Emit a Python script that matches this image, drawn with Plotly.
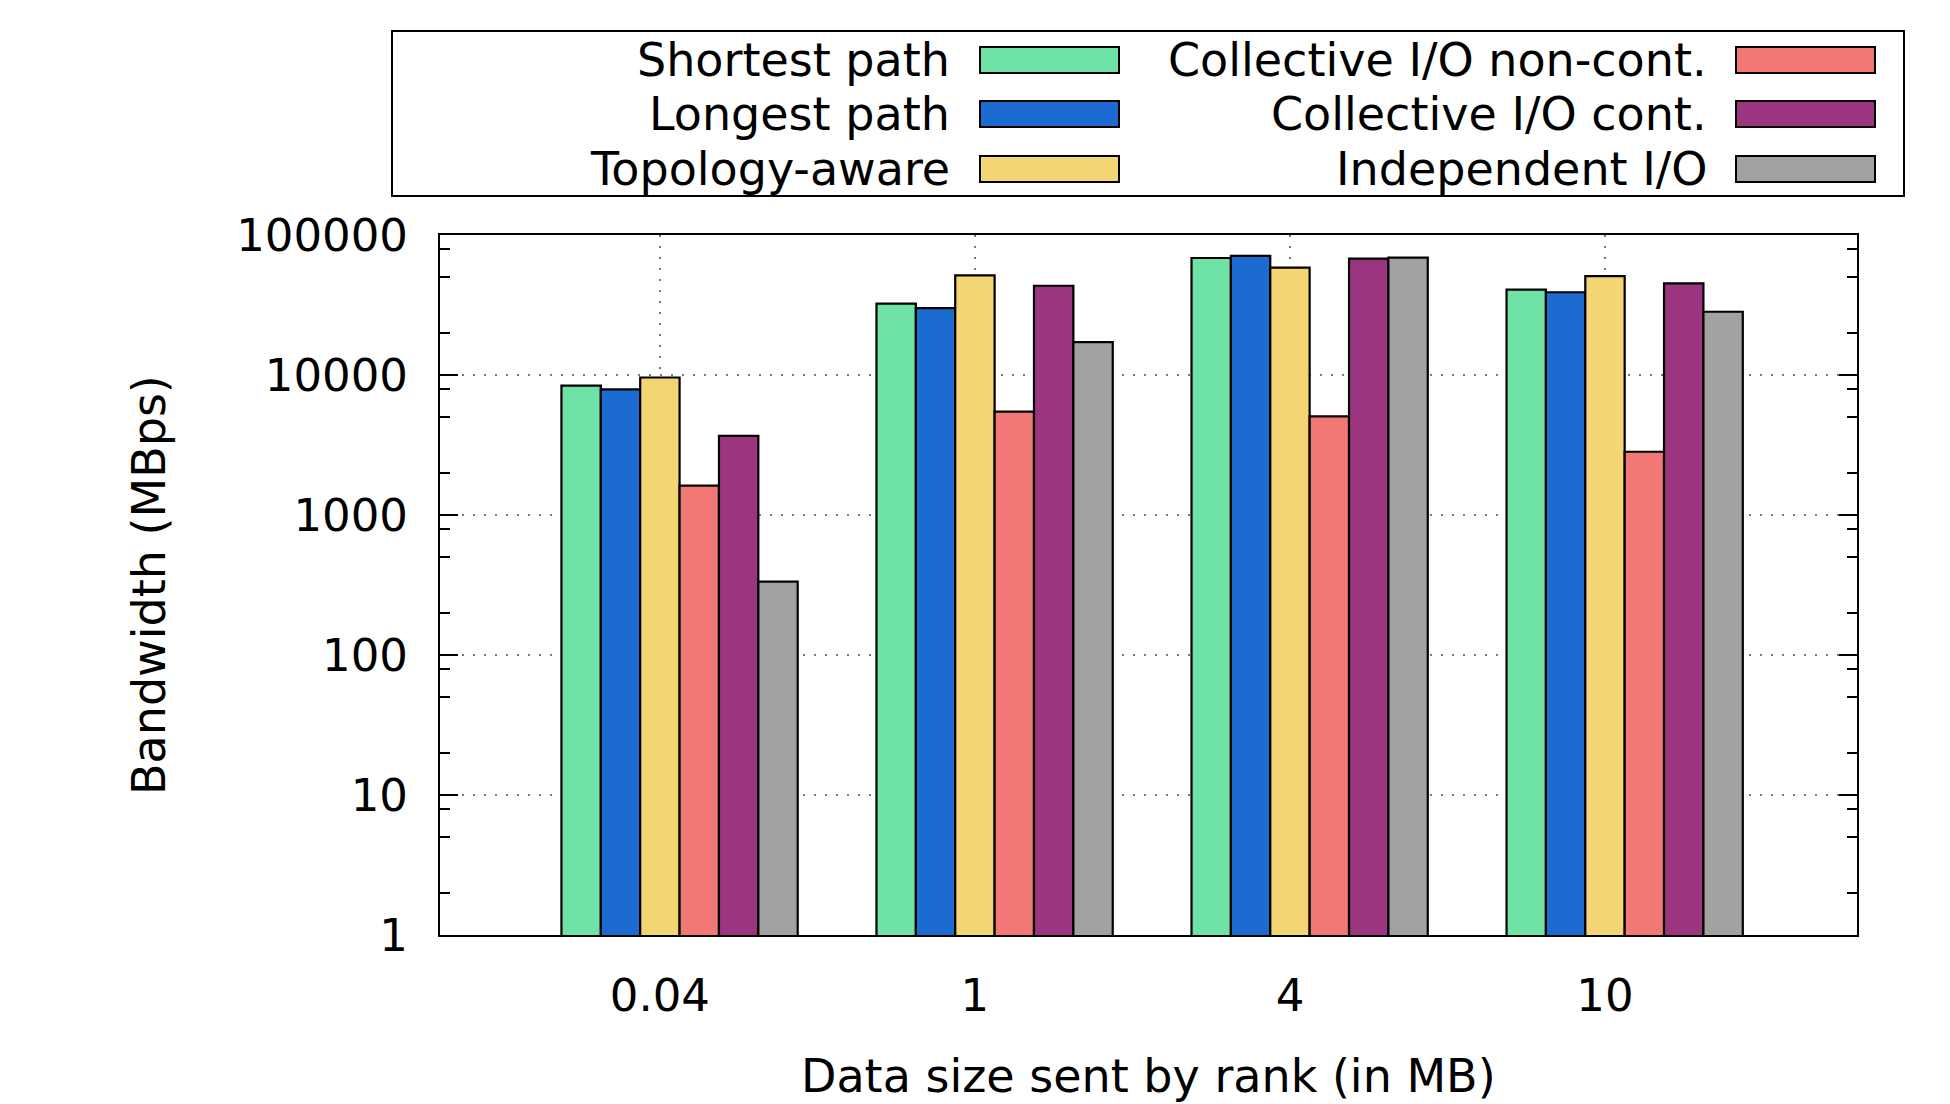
import plotly.graph_objects as go

# ---------------- data ----------------
categories = ["0.04", "1", "4", "10"]
series_names = ["Shortest path", "Longest path", "Topology-aware",
                "Collective I/O non-cont.", "Collective I/O cont.", "Independent I/O"]
shortest_path = [8400, 32300, 68500, 40700]
longest_path = [7900, 30000, 71000, 39000]
topology_aware = [9600, 51500, 58400, 50900]
collective_noncont = [1620, 5470, 5070, 2830]
collective_cont = [3680, 43400, 67800, 45200]
independent_io = [334, 17200, 69000, 28300]
y_tick_values = [1, 10, 100, 1000, 10000, 100000]
y_tick_labels = ["1", "10", "100", "1000", "10000", "100000"]
minor_tick_values = [m * 10 ** d for d in range(5) for m in (2, 5, 8)]

series_values = [shortest_path, longest_path, topology_aware,
                 collective_noncont, collective_cont, independent_io]
colors = ["#6ee3a5", "#1b6bd1", "#f3d573", "#f27876", "#9c3580", "#a2a2a2"]

# ---------------- layout constants (page pixels) ----------------
PAGE_W, PAGE_H = 1950, 1104
OFF = 8  # default body margin of the html page
W, H = PAGE_W - OFF, PAGE_H - OFF
L, R, T, B = 440, 1857, 235, 935
FONT = "DejaVu Sans"
FS = 46
FS_TICK = 45
BAR_W = 0.125


def px(x):
    return (x - L) / (R - L)


def py(y):
    return (B - y) / (B - T)


fig = go.Figure()
for k, (name, vals, col) in enumerate(zip(series_names, series_values, colors)):
    fig.add_trace(go.Bar(
        x=categories, y=vals, name=name,
        width=BAR_W, offset=(k - 2) * BAR_W - BAR_W / 2,
        marker=dict(color=col, line=dict(color="black", width=2.2)),
        showlegend=False,
    ))

# ---------------- custom legend (text left of swatch) ----------------
shapes = []
annotations = []
shapes.append(dict(type="rect", xref="paper", yref="paper",
                   x0=px(392), x1=px(1904), y0=py(196), y1=py(31),
                   line=dict(color="black", width=2), fillcolor="white", layer="above"))
rows_y = [60, 114, 169]
col_text_right = [952, 1709]
col_swatch = [(980, 1119), (1736, 1875)]
for k, (name, col) in enumerate(zip(series_names, colors)):
    c, r = divmod(k, 3)
    yc = rows_y[r]
    annotations.append(dict(xref="paper", yref="paper", x=px(col_text_right[c]), y=py(yc),
                            xanchor="right", yanchor="middle", text=name, showarrow=False,
                            font=dict(family=FONT, size=FS, color="black")))
    shapes.append(dict(type="rect", xref="paper", yref="paper",
                       x0=px(col_swatch[c][0]), x1=px(col_swatch[c][1]),
                       y0=py(yc + 13), y1=py(yc - 13),
                       line=dict(color="black", width=2), fillcolor=col, layer="above"))

# axis titles
annotations.append(dict(xref="paper", yref="paper", x=0.5, y=py(1076),
                        xanchor="center", yanchor="middle", showarrow=False,
                        text="Data size sent by rank (in MB)",
                        font=dict(family=FONT, size=FS, color="black")))
annotations.append(dict(xref="paper", yref="paper", x=px(149), y=0.5,
                        xanchor="center", yanchor="middle", showarrow=False, textangle=-90,
                        text="Bandwidth (MBps)",
                        font=dict(family=FONT, size=FS, color="black")))

fig.update_layout(
    width=W, height=H,
    margin=dict(l=L - OFF, r=PAGE_W - R, t=T - OFF, b=PAGE_H - B, autoexpand=False),
    paper_bgcolor="white", plot_bgcolor="white",
    barmode="overlay",
    font=dict(family=FONT, size=FS, color="black"),
    shapes=shapes, annotations=annotations,
    xaxis=dict(
        type="category", categoryorder="array", categoryarray=categories,
        range=[-0.698, 3.8],
        showline=True, linecolor="black", linewidth=2, mirror=True,
        ticks="", showgrid=True, gridcolor="#777777", gridwidth=2, griddash="2px,9px",
        tickfont=dict(family=FONT, size=FS_TICK, color="black"),
        ticklabelstandoff=20,
        zeroline=False,
    ),
    yaxis=dict(
        type="log", range=[0, 5],
        tickmode="array", tickvals=y_tick_values, ticktext=y_tick_labels,
        ticks="inside", ticklen=18, tickwidth=2, tickcolor="black",
        minor=dict(tickmode="array", tickvals=minor_tick_values, ticks="inside",
                   ticklen=10, tickwidth=2, tickcolor="black", showgrid=False),
        showline=True, linecolor="black", linewidth=2, mirror="allticks",
        showgrid=True, gridcolor="#777777", gridwidth=2, griddash="2px,9px",
        tickfont=dict(family=FONT, size=FS_TICK, color="black"),
        ticklabelstandoff=21,
        zeroline=False,
    ),
)

fig.write_html("out.html")
